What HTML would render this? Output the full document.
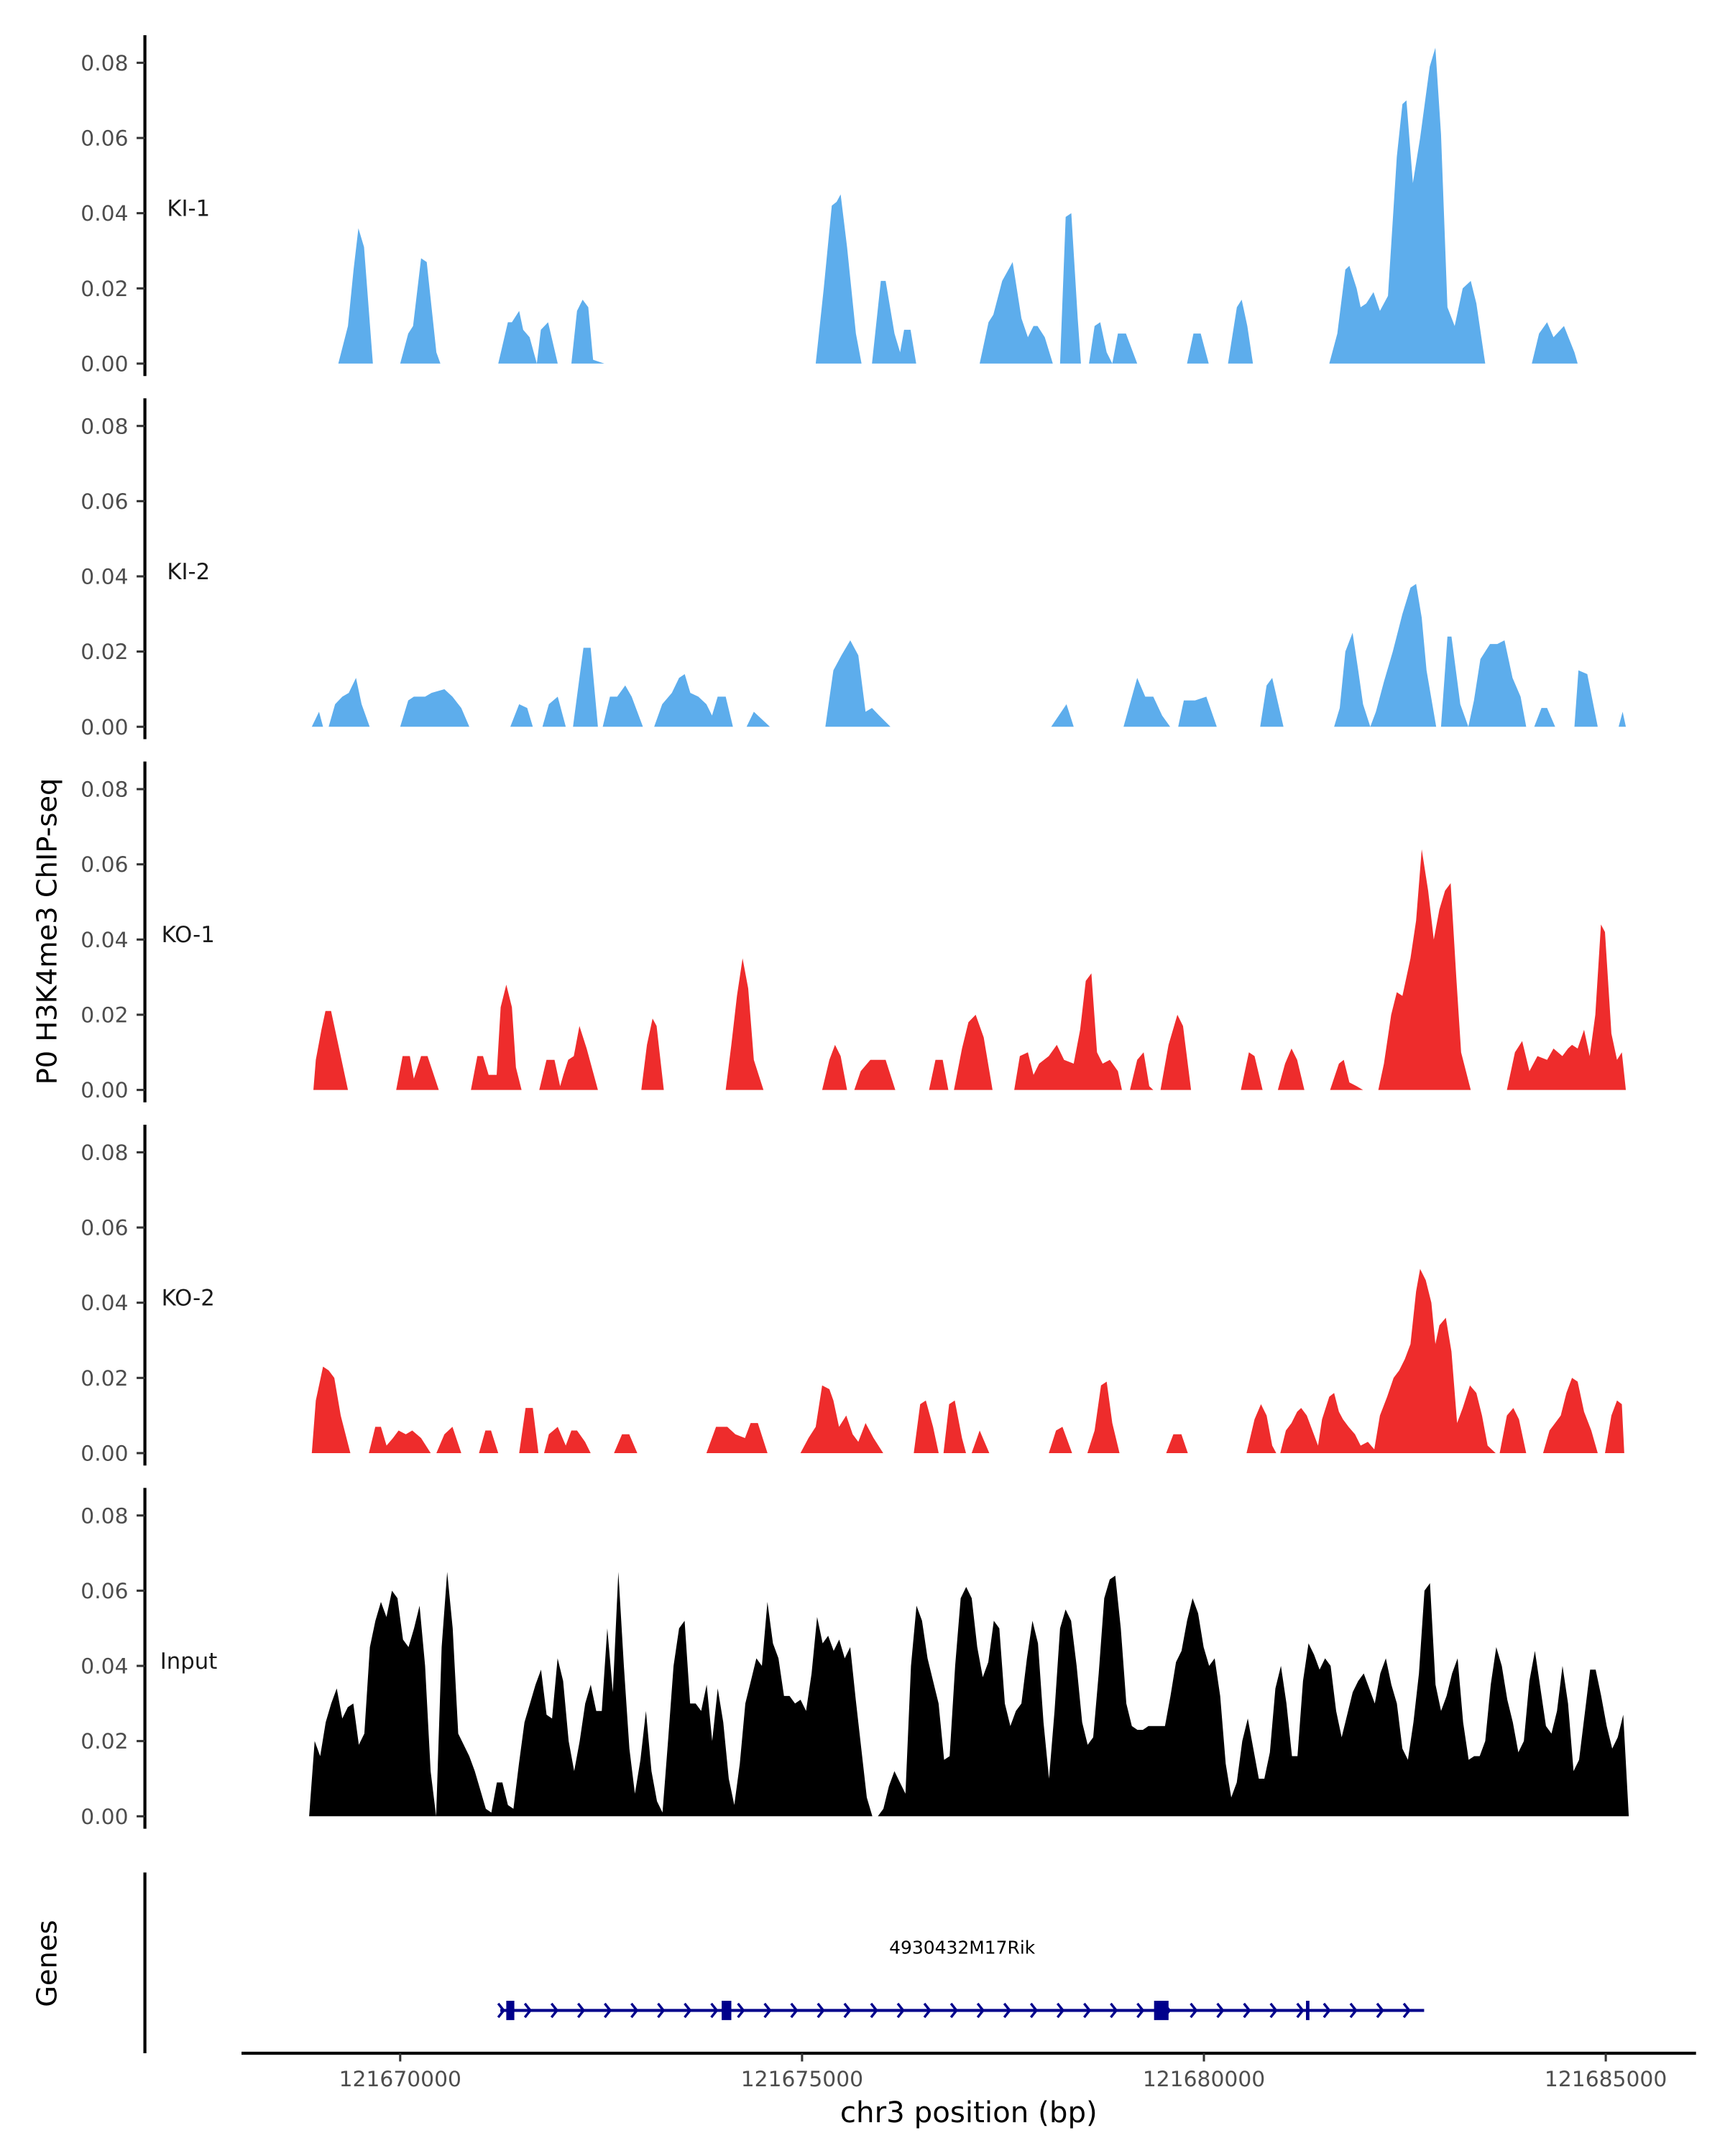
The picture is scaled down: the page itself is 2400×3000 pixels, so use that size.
<!DOCTYPE html>
<html><head><meta charset="utf-8"><style>
html,body{margin:0;padding:0;background:#fff;}
svg{display:block;font-family:"DejaVu Sans","Liberation Sans",sans-serif;}
</style></head><body>
<svg id="chart" width="2400" height="3000" viewBox="0 0 1250 1562.5" xmlns="http://www.w3.org/2000/svg">
<rect width="1250" height="1562.5" fill="#fff"/>
</svg>
<script>
// genomic positions in kb offset from 121,670,000 bp; values = normalized coverage
const xTicks = [121670000, 121675000, 121680000, 121685000];
const yTicks = [0, 0.02, 0.04, 0.06, 0.08];
const trackNames = ["KI-1", "KI-2", "KO-1", "KO-2", "Input"];
const trackColors = ["#5DADEC", "#5DADEC", "#EE2C2C", "#EE2C2C", "#000000"];

const ki1Pos = [-0.77,-0.65,-0.58,-0.52,-0.45,-0.34,0,0.10,0.16,0.26,0.33,0.45,0.50,1.22,1.34,1.39,1.48,1.53,1.61,1.70,1.75,1.84,1.96,2.13,2.20,2.27,2.34,2.40,2.54,5.17,5.27,5.37,5.43,5.48,5.56,5.67,5.74,5.87,5.98,6.04,6.15,6.22,6.27,6.35,6.42,7.21,7.32,7.38,7.49,7.62,7.73,7.81,7.88,7.93,8.02,8.12,8.21,8.28,8.35,8.43,8.47,8.57,8.64,8.71,8.79,8.86,8.93,9.03,9.17,9.79,9.87,9.96,10.06,10.30,10.41,10.47,10.54,10.61,11.56,11.66,11.76,11.81,11.90,11.95,12.02,12.11,12.19,12.29,12.40,12.47,12.52,12.60,12.69,12.81,12.88,12.95,13.03,13.12,13.22,13.32,13.39,13.50,14.08,14.17,14.27,14.35,14.48,14.61,14.65];
const ki1Val = [0,0.01,0.025,0.036,0.031,0,0,0.008,0.01,0.028,0.027,0.003,0,0,0.011,0.011,0.014,0.009,0.007,0,0.009,0.011,0,0,0.014,0.017,0.015,0.001,0,0,0.02,0.042,0.043,0.045,0.031,0.008,0,0,0.022,0.022,0.008,0.003,0.009,0.009,0,0,0.011,0.013,0.022,0.027,0.012,0.007,0.01,0.01,0.007,0,0,0.039,0.04,0.012,0,0,0.01,0.011,0.003,0,0.008,0.008,0,0,0.008,0.008,0,0,0.015,0.017,0.01,0,0,0.008,0.025,0.026,0.02,0.015,0.016,0.019,0.014,0.018,0.055,0.069,0.07,0.048,0.06,0.079,0.084,0.061,0.015,0.01,0.02,0.022,0.016,0,0,0.008,0.011,0.007,0.01,0.003,0];

const ki2Pos = [-1.10,-1.01,-0.96,-0.89,-0.81,-0.72,-0.64,-0.55,-0.48,-0.38,0,0.10,0.17,0.31,0.39,0.55,0.65,0.76,0.86,1.37,1.48,1.58,1.65,1.77,1.85,1.96,2.06,2.15,2.23,2.28,2.37,2.46,2.52,2.61,2.70,2.80,2.88,3.02,3.16,3.26,3.38,3.47,3.54,3.61,3.71,3.81,3.88,3.95,4.05,4.14,4.31,4.40,4.60,5.29,5.39,5.49,5.60,5.70,5.79,5.87,5.96,6.10,8.10,8.29,8.38,9.00,9.17,9.27,9.37,9.48,9.58,9.68,9.75,9.89,10.03,10.16,10.70,10.78,10.85,10.99,11.62,11.69,11.76,11.85,11.92,11.98,12.07,12.14,12.24,12.35,12.47,12.57,12.64,12.71,12.77,12.89,12.95,13.03,13.08,13.19,13.29,13.36,13.44,13.56,13.65,13.74,13.84,13.94,14.01,14.11,14.20,14.27,14.37,14.61,14.66,14.77,14.90,15.16,15.21,15.25];
const ki2Val = [0,0.004,0,0,0.006,0.008,0.009,0.013,0.006,0,0,0.007,0.008,0.008,0.009,0.01,0.008,0.005,0,0,0.006,0.005,0,0,0.006,0.008,0,0,0.013,0.021,0.021,0,0,0.008,0.008,0.011,0.008,0,0,0.006,0.009,0.013,0.014,0.009,0.008,0.006,0.003,0.008,0.008,0,0,0.004,0,0,0.015,0.019,0.023,0.019,0.004,0.005,0.003,0,0,0.006,0,0,0.013,0.008,0.008,0.003,0,0,0.007,0.007,0.008,0,0,0.011,0.013,0,0,0.005,0.02,0.025,0.015,0.006,0,0.004,0.012,0.02,0.03,0.037,0.038,0.029,0.015,0,0,0.024,0.024,0.006,0,0.007,0.018,0.022,0.022,0.023,0.013,0.008,0,0,0.005,0.005,0,0,0.015,0.014,0,0,0.004,0];

const ko1Pos = [-1.08,-1.05,-0.98,-0.93,-0.86,-0.77,-0.65,-0.05,0.03,0.12,0.17,0.26,0.34,0.48,0.88,0.96,1.03,1.10,1.20,1.25,1.32,1.39,1.44,1.51,1.73,1.82,1.92,1.99,2.03,2.09,2.16,2.23,2.32,2.46,3.00,3.07,3.14,3.19,3.28,4.05,4.12,4.19,4.26,4.33,4.40,4.52,5.25,5.34,5.41,5.48,5.56,5.65,5.73,5.85,6.04,6.16,6.58,6.66,6.75,6.82,6.89,6.99,7.07,7.16,7.26,7.37,7.64,7.71,7.81,7.88,7.95,8.07,8.17,8.26,8.38,8.46,8.53,8.60,8.67,8.74,8.83,8.93,8.98,9.08,9.17,9.25,9.32,9.37,9.46,9.56,9.67,9.74,9.84,10.46,10.56,10.63,10.73,10.92,11.01,11.09,11.16,11.25,11.57,11.68,11.74,11.81,11.90,11.98,12.17,12.24,12.33,12.40,12.47,12.57,12.64,12.71,12.79,12.86,12.93,13.00,13.07,13.14,13.20,13.32,13.77,13.87,13.96,14.05,14.15,14.27,14.35,14.46,14.53,14.58,14.65,14.73,14.80,14.87,14.94,14.99,15.07,15.14,15.20,15.25];
const ko1Val = [0,0.008,0.016,0.021,0.021,0.012,0,0,0.009,0.009,0.003,0.009,0.009,0,0,0.009,0.009,0.004,0.004,0.022,0.028,0.022,0.006,0,0,0.008,0.008,0.001,0.004,0.008,0.009,0.017,0.011,0,0,0.012,0.019,0.017,0,0,0.012,0.025,0.035,0.027,0.008,0,0,0.008,0.012,0.009,0,0,0.005,0.008,0.008,0,0,0.008,0.008,0,0,0.011,0.018,0.02,0.014,0,0,0.009,0.01,0.004,0.007,0.009,0.012,0.008,0.007,0.016,0.029,0.031,0.01,0.007,0.008,0.005,0,0,0.008,0.01,0.001,0,0,0.012,0.02,0.017,0,0,0.01,0.009,0,0,0.007,0.011,0.008,0,0,0.007,0.008,0.002,0.001,0,0,0.007,0.02,0.026,0.025,0.035,0.045,0.064,0.053,0.04,0.048,0.053,0.055,0.03,0.01,0,0,0.01,0.013,0.005,0.009,0.008,0.011,0.009,0.011,0.012,0.011,0.016,0.009,0.02,0.044,0.042,0.015,0.008,0.01,0];

const ko2Pos = [-1.10,-1.05,-0.96,-0.89,-0.82,-0.74,-0.62,-0.39,-0.31,-0.24,-0.17,-0.09,-0.02,0.07,0.15,0.26,0.38,0.45,0.55,0.65,0.76,0.98,1.06,1.13,1.22,1.48,1.56,1.65,1.72,1.79,1.85,1.96,2.06,2.13,2.20,2.30,2.37,2.66,2.76,2.85,2.95,3.81,3.93,4.07,4.17,4.29,4.36,4.45,4.57,4.98,5.08,5.17,5.25,5.34,5.39,5.46,5.55,5.63,5.70,5.79,5.89,6.01,6.39,6.47,6.54,6.63,6.70,6.76,6.83,6.90,6.99,7.04,7.11,7.21,7.33,8.07,8.16,8.24,8.36,8.55,8.64,8.72,8.79,8.86,8.95,9.53,9.62,9.72,9.80,10.53,10.63,10.71,10.78,10.85,10.90,10.95,11.02,11.09,11.16,11.21,11.28,11.35,11.42,11.47,11.56,11.62,11.68,11.73,11.80,11.88,11.95,12.04,12.12,12.19,12.28,12.36,12.43,12.50,12.57,12.64,12.69,12.76,12.83,12.88,12.93,13.01,13.08,13.15,13.22,13.31,13.39,13.46,13.53,13.63,13.68,13.77,13.85,13.92,14.01,14.22,14.30,14.37,14.44,14.51,14.58,14.65,14.73,14.82,14.90,14.99,15.07,15.14,15.20,15.23];
const ko2Val = [0,0.014,0.023,0.022,0.02,0.01,0,0,0.007,0.007,0.002,0.004,0.006,0.005,0.006,0.004,0,0,0.005,0.007,0,0,0.006,0.006,0,0,0.012,0.012,0,0,0.005,0.007,0.002,0.006,0.006,0.003,0,0,0.005,0.005,0,0,0.007,0.007,0.005,0.004,0.008,0.008,0,0,0.004,0.007,0.018,0.017,0.014,0.007,0.01,0.005,0.003,0.008,0.004,0,0,0.013,0.014,0.007,0,0,0.013,0.014,0.004,0,0,0.006,0,0,0.006,0.007,0,0,0.006,0.018,0.019,0.008,0,0,0.005,0.005,0,0,0.009,0.013,0.01,0.002,0,0,0.006,0.008,0.011,0.012,0.01,0.006,0.002,0.009,0.015,0.016,0.011,0.009,0.007,0.005,0.002,0.003,0.001,0.01,0.015,0.02,0.022,0.025,0.029,0.043,0.049,0.046,0.04,0.029,0.034,0.036,0.027,0.008,0.012,0.018,0.016,0.01,0.002,0,0,0.01,0.012,0.009,0,0,0.006,0.008,0.01,0.016,0.02,0.019,0.011,0.006,0,0,0.01,0.014,0.013,0];

// Input: uniform bins
const inputStartBp = 121668867;
const inputBinBp = 68.7;
const inputVal = [0,0.02,0.016,0.025,0.03,0.034,0.026,0.029,0.03,0.019,0.022,0.045,0.052,0.057,0.053,0.06,0.058,0.047,0.045,0.05,0.056,0.04,0.012,0,0.045,0.065,0.05,0.022,0.019,0.016,0.012,0.007,0.002,0.001,0.009,0.009,0.003,0.002,0.014,0.025,0.03,0.035,0.039,0.027,0.026,0.042,0.036,0.02,0.012,0.02,0.03,0.035,0.028,0.028,0.05,0.033,0.065,0.04,0.018,0.006,0.015,0.028,0.012,0.004,0.001,0.02,0.04,0.05,0.052,0.03,0.03,0.028,0.035,0.02,0.034,0.025,0.01,0.003,0.014,0.03,0.036,0.042,0.04,0.057,0.046,0.042,0.032,0.032,0.03,0.031,0.028,0.038,0.053,0.046,0.048,0.044,0.047,0.042,0.045,0.031,0.018,0.005,0,0,0.002,0.008,0.012,0.009,0.006,0.04,0.056,0.052,0.042,0.036,0.03,0.015,0.016,0.04,0.058,0.061,0.058,0.045,0.037,0.041,0.052,0.05,0.03,0.024,0.028,0.03,0.042,0.052,0.046,0.025,0.01,0.028,0.05,0.055,0.052,0.04,0.025,0.019,0.021,0.038,0.058,0.063,0.064,0.05,0.03,0.024,0.023,0.023,0.024,0.024,0.024,0.024,0.032,0.041,0.044,0.052,0.058,0.054,0.045,0.04,0.042,0.032,0.014,0.005,0.009,0.02,0.026,0.018,0.01,0.01,0.017,0.034,0.04,0.03,0.016,0.016,0.036,0.046,0.043,0.039,0.042,0.04,0.028,0.021,0.027,0.033,0.036,0.038,0.034,0.03,0.038,0.042,0.035,0.03,0.018,0.015,0.025,0.038,0.06,0.062,0.035,0.028,0.032,0.038,0.042,0.025,0.015,0.016,0.016,0.02,0.035,0.045,0.04,0.031,0.025,0.017,0.02,0.036,0.044,0.034,0.024,0.022,0.028,0.04,0.03,0.012,0.015,0.027,0.039,0.039,0.032,0.024,0.018,0.021,0.027,0];

const geneName = "4930432M17Rik";
const geneStartBp = 121671245;
const geneEndBp = 121682740;
const exonStartBp = [121671320, 121674000, 121679380, 121681270];
const exonEndBp = [121671420, 121674120, 121679560, 121681310];

const NS = "http://www.w3.org/2000/svg";
const svg = document.getElementById("chart");
function mk(tag, attrs, parent) { const e = document.createElementNS(NS, tag); for (const k in attrs) e.setAttribute(k, attrs[k]); (parent || svg).appendChild(e); return e; }
// scales
function xScale(bp) { return 290 + (bp - 121670000) / 5000 * 291.2; }
function kbToBp(kb) { return 121670000 + kb * 1000; }
const panelZero = [263.5, 526.7, 789.9, 1053.1, 1316.3];
function yScale(p, v) { return panelZero[p] - v / 0.02 * 54.5; }

const series = [
  { pos: ki1Pos.map(kbToBp), val: ki1Val },
  { pos: ki2Pos.map(kbToBp), val: ki2Val },
  { pos: ko1Pos.map(kbToBp), val: ko1Val },
  { pos: ko2Pos.map(kbToBp), val: ko2Val },
  { pos: inputVal.map((v, i) => inputStartBp + i * inputBinBp), val: inputVal }
];

for (let p = 0; p < 5; p++) {
  const g = mk("g", {});
  
  
  const top = panelZero[p] - 238;
  const axis = mk("line", { x1: 105, x2: 105, y1: top, y2: panelZero[p] + 9, stroke: "#000", "stroke-width": 2.2 }, g);
  
  
  yTicks.forEach(t => {
    const y = yScale(p, t);
    const tk = mk("line", { x1: 99, x2: 105, y1: y, y2: y, stroke: "#333", "stroke-width": 1.6 }, g);
    
    
    const tl = mk("text", { x: 93, y: y + 5.5, "text-anchor": "end", "font-size": 15.5, fill: "#4d4d4d" }, g);
    tl.textContent = t.toFixed(2);
    
    
  });
  const s = series[p];
  let d = "M" + xScale(s.pos[0]).toFixed(2) + "," + panelZero[p];
  for (let i = 0; i < s.pos.length; i++) d += " L" + xScale(s.pos[i]).toFixed(2) + "," + yScale(p, s.val[i]).toFixed(2);
  d += " L" + xScale(s.pos[s.pos.length - 1]).toFixed(2) + "," + panelZero[p] + " Z";
  const area = mk("path", { d: d, fill: trackColors[p], stroke: "none" }, g);
  
  
  const lab = mk("text", { x: p === 4 ? 116 : (p >= 2 ? 117 : 121), y: panelZero[p] - 107, "font-size": 16, fill: "#1a1a1a" }, g);
  lab.textContent = trackNames[p];
  
  
}

// Y axis title
const yt = mk("text", { x: 0, y: 0, transform: "translate(41,675) rotate(-90)", "text-anchor": "middle", "font-size": 20, fill: "#000" });
yt.textContent = "P0 H3K4me3 ChIP-seq";



// Genes panel
const gg = mk("g", {});


const ga = mk("line", { x1: 105, x2: 105, y1: 1357, y2: 1488, stroke: "#000", "stroke-width": 2.2 }, gg);


const gt = mk("text", { x: 0, y: 0, transform: "translate(41,1423) rotate(-90)", "text-anchor": "middle", "font-size": 20, fill: "#000" }, gg);
gt.textContent = "Genes";


const gy = 1457;
const x0 = xScale(geneStartBp), x1 = xScale(geneEndBp);
const gl = mk("line", { x1: x0, x2: x1, y1: gy, y2: gy, stroke: "#00008B", "stroke-width": 2.2 }, gg);


for (let x = x0 + 1; x <= x1 + 0.5; x += 19.3) {
  const ar = mk("path", { d: `M${x - 2.5},${gy - 5} L${x + 1.5},${gy} L${x - 2.5},${gy + 5}`, fill: "none", stroke: "#00008B", "stroke-width": 1.8 }, gg);
  
  
}
exonStartBp.forEach((s, i) => {
  const xa = xScale(s), xb = xScale(exonEndBp[i]);
  const ex = mk("rect", { x: xa, y: gy - 7, width: Math.max(xb - xa, 2.5), height: 14, fill: "#00008B" }, gg);
  
  
});
const gn = mk("text", { x: (x0 + x1) / 2, y: 1416, "text-anchor": "middle", "font-size": 13, fill: "#000" }, gg);
gn.textContent = geneName;



// X axis
const xa = mk("line", { x1: 175, x2: 1229, y1: 1488, y2: 1488, stroke: "#000", "stroke-width": 2.2 });


xTicks.forEach(t => {
  const x = xScale(t);
  const tk = mk("line", { x1: x, x2: x, y1: 1488, y2: 1494, stroke: "#333", "stroke-width": 1.6 });
  
  
  const tl = mk("text", { x: x, y: 1512, "text-anchor": "middle", "font-size": 15.5, fill: "#4d4d4d" });
  tl.textContent = String(t);
  
  
});
const xt = mk("text", { x: 702, y: 1538, "text-anchor": "middle", "font-size": 21, fill: "#000" });
xt.textContent = "chr3 position (bp)";


</script>
</body></html>
